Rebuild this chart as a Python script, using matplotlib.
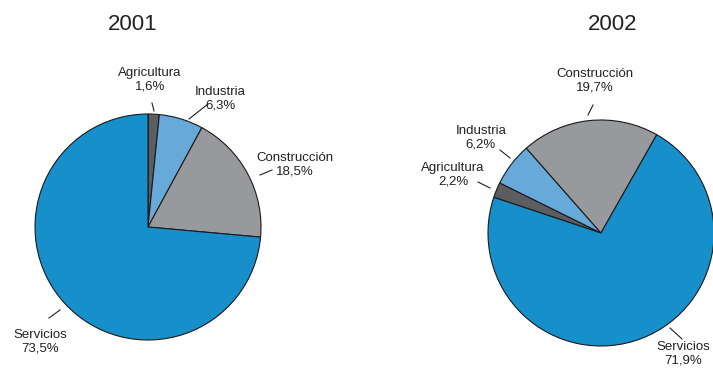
import matplotlib
matplotlib.use("Agg")
import matplotlib.pyplot as plt

# datos
sectores = ["Agricultura", "Industria", "Construcción", "Servicios"]
valores_2001 = [1.6, 6.3, 18.5, 73.5]
valores_2002 = [2.2, 6.2, 19.7, 71.9]
etiquetas_2001 = ["1,6%", "6,3%", "18,5%", "73,5%"]
etiquetas_2002 = ["2,2%", "6,2%", "19,7%", "71,9%"]
colores = ["#5c5d60", "#67a9d8", "#98999c", "#168fcb"]

W, H = 713, 370
plt.rcParams['font.family'] = ['Liberation Sans', 'DejaVu Sans']

fig = plt.figure(figsize=(W / 100, H / 100), dpi=100)
ax = fig.add_axes([0, 0, 1, 1])


def py(y):
    """convertir y de pixel (desde arriba) a coordenadas del eje"""
    return H - y


cuña = dict(edgecolor="#1a1a1a", linewidth=0.8)
ax.pie(valores_2001, colors=colores, center=(148, py(227)), radius=113,
       startangle=90, counterclock=False, wedgeprops=cuña)
ax.pie(valores_2002, colors=colores, center=(601, py(233)), radius=113,
       startangle=161.6, counterclock=False, wedgeprops=cuña)

ax.set_xlim(0, W)
ax.set_ylim(0, H)
ax.set_aspect("equal")
ax.axis("off")

# títulos
ax.text(133, py(25), "2001", ha="center", va="center", fontsize=16, color="#222222")
ax.text(613, py(25), "2002", ha="center", va="center", fontsize=16, color="#222222")

# etiquetas: (texto x, texto y, línea)
pos_2001 = [
    (150, 80, [(152, 103), (154, 111)]),
    (220, 99, [(208, 104), (189, 119)]),
    (295, 165, [(260, 175), (272, 170)]),
    (40, 342, [(49, 318), (60, 310)]),
]
pos_2002 = [
    (453, 175, [(478, 182), (490, 188)]),
    (481, 138, [(500, 150), (510, 158)]),
    (595, 81, [(593, 105), (588, 115)]),
    (683, 354, [(670, 328), (682, 339)]),
]

for nombres, etiquetas, posiciones in [(sectores, etiquetas_2001, pos_2001),
                                       (sectores, etiquetas_2002, pos_2002)]:
    for nombre, etq, (tx, ty, linea) in zip(nombres, etiquetas, posiciones):
        ax.text(tx, py(ty), nombre + "\n" + etq, ha="center", va="center",
                fontsize=9.5, color="#222222", linespacing=1.2)
        (x0, y0), (x1, y1) = linea
        ax.plot([x0, x1], [py(y0), py(y1)], color="#222222", linewidth=0.8)

fig.savefig("out.png", dpi=100)
